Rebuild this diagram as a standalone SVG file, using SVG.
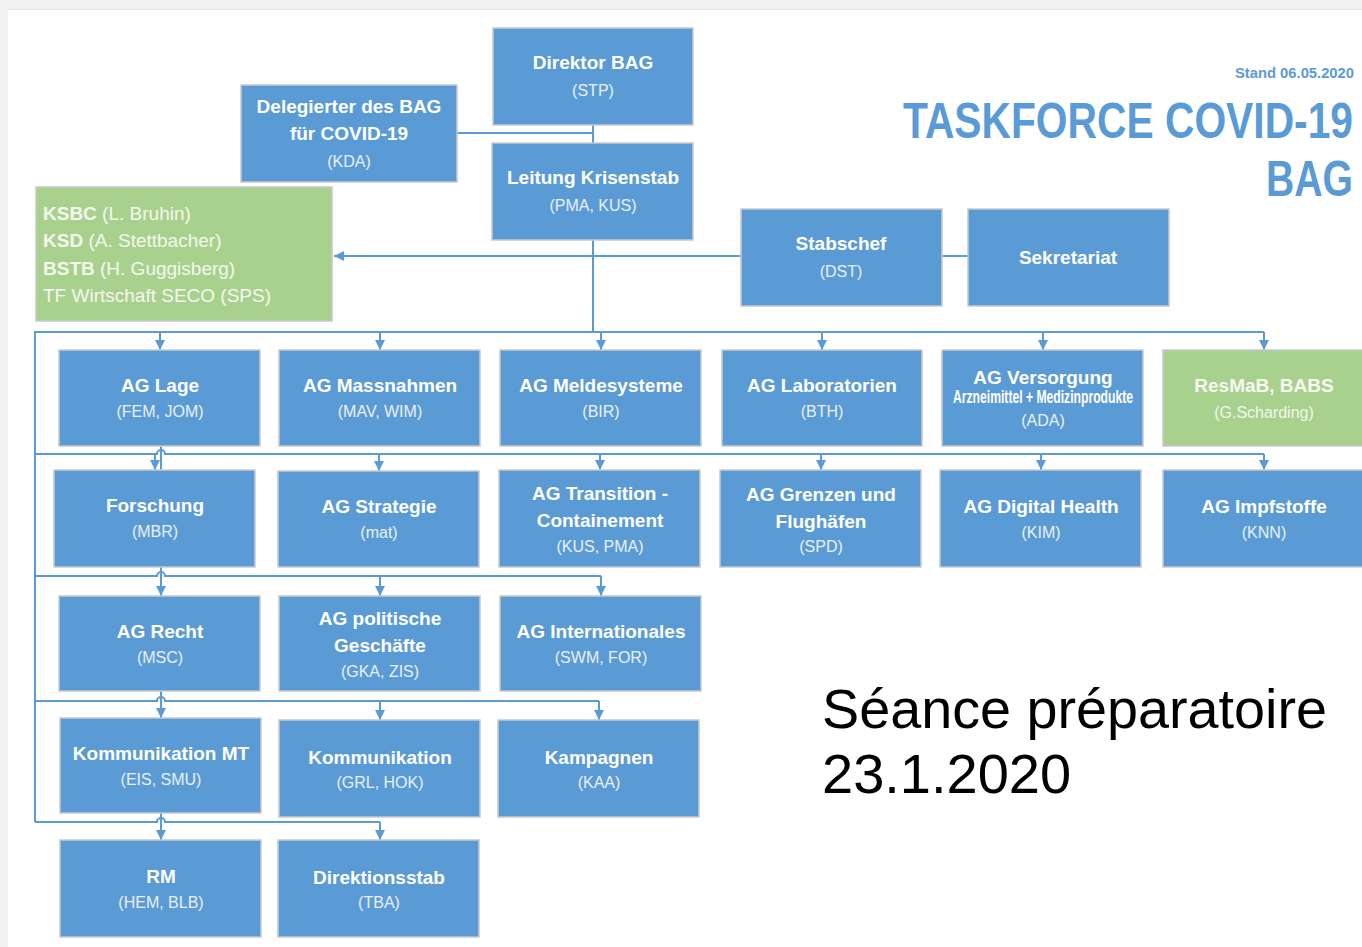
<svg xmlns="http://www.w3.org/2000/svg" width="1362" height="947" viewBox="0 0 1362 947">
<style>
.box{fill:#5b9bd5;stroke:#c6c9cc;stroke-width:1.5}
.green{fill:#a9d18e;stroke:#c6c9cc;stroke-width:1.5}
.t{font-family:"Liberation Sans",Arial,sans-serif;font-weight:bold;font-size:19px;fill:#ffffff;text-anchor:middle}
.s{font-family:"Liberation Sans",Arial,sans-serif;font-size:16px;fill:#e9f0f8;text-anchor:middle}
.k{font-family:"Liberation Sans",Arial,sans-serif;font-size:19px;fill:#f4f8ee}
.c{stroke:#5b9bd5;stroke-width:2;fill:none}
.a{stroke:#5b9bd5;stroke-width:2;fill:none;marker-end:url(#arr)}
.h{font-family:"Liberation Sans",Arial,sans-serif;font-weight:bold;fill:#5b9bd5;text-anchor:end}
</style>
<defs>
<marker id="arr" viewBox="0 0 10 10" refX="10" refY="5" markerWidth="10" markerHeight="10" markerUnits="userSpaceOnUse" orient="auto">
<path d="M0,0 L10,5 L0,10 Z" fill="#5b9bd5"/>
</marker>
</defs>
<rect x="0" y="0" width="1362" height="947" fill="#f2f2f2"/>
<rect x="8" y="10" width="1354" height="937" fill="#ffffff"/>
<line x1="8" y1="9.5" x2="1362" y2="9.5" stroke="#e6e6e6" stroke-width="1"/>

<g id="connectors">
<path class="c" d="M593,125 V332"/>
<path class="c" d="M457,133 H593"/>
<path class="a" d="M593,256 H334"/>
<path class="c" d="M593,256 H741"/>
<path class="c" d="M942,256 H968"/>
<path class="c" d="M593,332 H35 V822"/>
<path class="c" d="M593,332 H1264"/>
<path class="a" d="M160,332 V350"/>
<path class="a" d="M380,332 V350"/>
<path class="a" d="M601,332 V350"/>
<path class="a" d="M822,332 V350"/>
<path class="a" d="M1043,332 V350"/>
<path class="a" d="M1264,332 V350"/>
<path class="c" d="M35,454 H157 A4,4 0 0 1 165,454 H1264"/>
<path class="c" d="M161,446 V470"/>
<path class="a" d="M155,454 V470"/>
<path class="a" d="M379,454 V471"/>
<path class="a" d="M600,454 V470"/>
<path class="a" d="M821,454 V470"/>
<path class="a" d="M1041,454 V470"/>
<path class="a" d="M1264,454 V470"/>
<path class="c" d="M35,576 H157 A4,4 0 0 1 165,576 H601"/>
<path class="a" d="M161,567 V596"/>
<path class="a" d="M380,576 V596"/>
<path class="a" d="M601,576 V596"/>
<path class="c" d="M35,701 H157 A4,4 0 0 1 165,701 H599"/>
<path class="a" d="M161,691 V718"/>
<path class="a" d="M380,701 V720"/>
<path class="a" d="M599,701 V720"/>
<path class="c" d="M35,822 H157 A4,4 0 0 1 165,822 H380"/>
<path class="a" d="M161,813 V840"/>
<path class="a" d="M380,822 V840"/>
</g>

<g id="title">
<text class="h" x="1354" y="78" font-size="15" textLength="119" lengthAdjust="spacingAndGlyphs">Stand 06.05.2020</text>
<text class="h" x="1353" y="138" font-size="50" textLength="450" lengthAdjust="spacingAndGlyphs">TASKFORCE COVID-19</text>
<text class="h" x="1353" y="196" font-size="50" textLength="87" lengthAdjust="spacingAndGlyphs">BAG</text>
</g>

<g id="n-direktor"><rect class="box" x="493" y="28" width="200" height="97"/><text class="t" x="593" y="69">Direktor BAG</text><text class="s" x="593" y="96">(STP)</text></g>
<g id="n-delegierter"><rect class="box" x="241" y="85" width="216" height="97"/><text class="t" x="349" y="113">Delegierter des BAG</text><text class="t" x="349" y="140">für COVID-19</text><text class="s" x="349" y="167">(KDA)</text></g>
<g id="n-leitung"><rect class="box" x="492" y="143" width="201" height="97"/><text class="t" x="593" y="184">Leitung Krisenstab</text><text class="s" x="593" y="211">(PMA, KUS)</text></g>
<g id="n-ksbc"><rect class="green" x="36" y="187" width="296" height="134"/>
<text class="k" x="43" y="220"><tspan font-weight="bold">KSBC</tspan> (L. Bruhin)</text>
<text class="k" x="43" y="247"><tspan font-weight="bold">KSD</tspan> (A. Stettbacher)</text>
<text class="k" x="43" y="275"><tspan font-weight="bold">BSTB</tspan> (H. Guggisberg)</text>
<text class="k" x="43" y="302">TF Wirtschaft SECO (SPS)</text></g>
<g id="n-stabschef"><rect class="box" x="741" y="209" width="201" height="97"/><text class="t" x="841" y="250">Stabschef</text><text class="s" x="841" y="277">(DST)</text></g>
<g id="n-sekretariat"><rect class="box" x="968" y="209" width="201" height="97"/><text class="t" x="1068" y="264">Sekretariat</text></g>

<g id="n-lage"><rect class="box" x="59" y="350" width="201" height="96"/><text class="t" x="160" y="392">AG Lage</text><text class="s" x="160" y="417">(FEM, JOM)</text></g>
<g id="n-massnahmen"><rect class="box" x="279" y="350" width="201" height="96"/><text class="t" x="380" y="392">AG Massnahmen</text><text class="s" x="380" y="417">(MAV, WIM)</text></g>
<g id="n-meldesysteme"><rect class="box" x="500" y="350" width="201" height="96"/><text class="t" x="601" y="392">AG Meldesysteme</text><text class="s" x="601" y="417">(BIR)</text></g>
<g id="n-laboratorien"><rect class="box" x="722" y="350" width="200" height="96"/><text class="t" x="822" y="392">AG Laboratorien</text><text class="s" x="822" y="417">(BTH)</text></g>
<g id="n-versorgung"><rect class="box" x="942" y="350" width="201" height="96"/><text class="t" x="1043" y="384">AG Versorgung</text><text class="t" x="1043" y="403" font-size="12.5" textLength="180" lengthAdjust="spacingAndGlyphs">Arzneimittel + Medizinprodukte</text><text class="s" x="1043" y="426">(ADA)</text></g>
<g id="n-resmab"><rect class="green" x="1163" y="350" width="201" height="96"/><text class="t" x="1264" y="392" style="fill:#f7faf2">ResMaB, BABS</text><text class="s" x="1264" y="418" style="fill:#f2f7ec">(G.Scharding)</text></g>

<g id="n-forschung"><rect class="box" x="54" y="470" width="201" height="97"/><text class="t" x="155" y="512">Forschung</text><text class="s" x="155" y="537">(MBR)</text></g>
<g id="n-strategie"><rect class="box" x="278" y="471" width="201" height="96"/><text class="t" x="379" y="513">AG Strategie</text><text class="s" x="379" y="538">(mat)</text></g>
<g id="n-transition"><rect class="box" x="499" y="470" width="201" height="97"/><text class="t" x="600" y="500">AG Transition -</text><text class="t" x="600" y="527">Containement</text><text class="s" x="600" y="552">(KUS, PMA)</text></g>
<g id="n-grenzen"><rect class="box" x="720" y="470" width="201" height="97"/><text class="t" x="821" y="501">AG Grenzen und</text><text class="t" x="821" y="528">Flughäfen</text><text class="s" x="821" y="552">(SPD)</text></g>
<g id="n-digital"><rect class="box" x="940" y="470" width="201" height="97"/><text class="t" x="1041" y="513">AG Digital Health</text><text class="s" x="1041" y="538">(KIM)</text></g>
<g id="n-impfstoffe"><rect class="box" x="1163" y="470" width="201" height="97"/><text class="t" x="1264" y="513">AG Impfstoffe</text><text class="s" x="1264" y="538">(KNN)</text></g>

<g id="n-recht"><rect class="box" x="59" y="596" width="201" height="95"/><text class="t" x="160" y="638">AG Recht</text><text class="s" x="160" y="663">(MSC)</text></g>
<g id="n-politische"><rect class="box" x="279" y="596" width="201" height="95"/><text class="t" x="380" y="625">AG politische</text><text class="t" x="380" y="652">Geschäfte</text><text class="s" x="380" y="677">(GKA, ZIS)</text></g>
<g id="n-internationales"><rect class="box" x="500" y="596" width="201" height="95"/><text class="t" x="601" y="638">AG Internationales</text><text class="s" x="601" y="663">(SWM, FOR)</text></g>

<g id="n-kommmt"><rect class="box" x="60" y="718" width="201" height="95"/><text class="t" x="161" y="760">Kommunikation MT</text><text class="s" x="161" y="785">(EIS, SMU)</text></g>
<g id="n-komm"><rect class="box" x="279" y="720" width="201" height="97"/><text class="t" x="380" y="764">Kommunikation</text><text class="s" x="380" y="788">(GRL, HOK)</text></g>
<g id="n-kampagnen"><rect class="box" x="498" y="720" width="201" height="97"/><text class="t" x="599" y="764">Kampagnen</text><text class="s" x="599" y="788">(KAA)</text></g>

<g id="n-rm"><rect class="box" x="60" y="840" width="201" height="97"/><text class="t" x="161" y="883">RM</text><text class="s" x="161" y="908">(HEM, BLB)</text></g>
<g id="n-direktionsstab"><rect class="box" x="278" y="840" width="201" height="97"/><text class="t" x="379" y="884">Direktionsstab</text><text class="s" x="379" y="908">(TBA)</text></g>

<g id="seance">
<text x="822" y="728" font-family="Liberation Sans, Arial, sans-serif" font-size="56" fill="#000000" textLength="505" lengthAdjust="spacingAndGlyphs">Séance préparatoire</text>
<text x="822" y="793" font-family="Liberation Sans, Arial, sans-serif" font-size="56" fill="#000000">23.1.2020</text>
</g>
</svg>
